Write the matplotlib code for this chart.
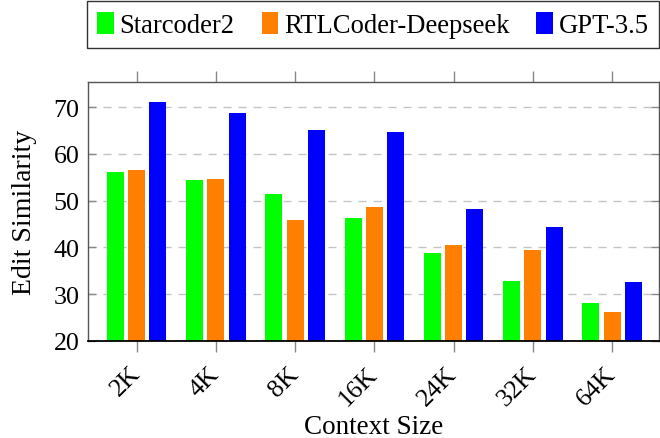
import numpy as np
import matplotlib
matplotlib.use('Agg')
import matplotlib.pyplot as plt

plt.rcParams['font.family'] = ['Liberation Serif', 'DejaVu Serif']

contexts = ['2K', '4K', '8K', '16K', '24K', '32K', '64K']
starcoder2 = [56.2, 54.4, 51.4, 46.3, 38.7, 32.8, 28.0]
rtlcoder = [56.6, 54.6, 45.9, 48.6, 40.5, 39.5, 26.1]
gpt35 = [71.1, 68.7, 65.2, 64.6, 48.3, 44.4, 32.6]

series = [('Starcoder2', starcoder2, '#00ff00'),
          ('RTLCoder-Deepseek', rtlcoder, '#ff8000'),
          ('GPT-3.5', gpt35, '#0000ff')]

fig = plt.figure(figsize=(6.6, 4.39), dpi=100)
ax = fig.add_axes([88 / 660, 1 - 341.7 / 439, 571 / 660, (341.7 - 83) / 439])

x = np.arange(len(contexts))
step = 0.268
width = 0.215
for i, (name, vals, color) in enumerate(series):
    ax.bar(x + (i - 1) * step, np.array(vals) - 20, width, bottom=20,
           color=color, label=name, zorder=3)

ax.set_xlim(-0.612, 6.59)
ax.set_ylim(20, 75.4)
ax.set_yticks([20, 30, 40, 50, 60, 70])
ax.set_xticks(x)
ax.set_xticklabels(contexts, rotation=45, ha='right', va='center',
                   rotation_mode='anchor')

ax.tick_params(axis='x', direction='out', top=True, length=8, width=1,
               color='#888888', labelsize=18.7, pad=13)
ax.tick_params(axis='y', direction='in', right=True, length=6, width=1,
               color='#888888', labelsize=18.7, pad=6)

ax.grid(axis='y', color='#c4c4c4', linewidth=1, linestyle=(0, (5.8, 5)),
        zorder=0)

for s in ['left', 'right', 'top']:
    ax.spines[s].set_color('#555555')
    ax.spines[s].set_linewidth(1)
ax.spines['bottom'].set_color('black')
ax.spines['bottom'].set_linewidth(1.3)
ax.spines['bottom'].set_zorder(4)

ax.set_ylabel('Edit Similarity', fontsize=20, labelpad=12)
ax.set_xlabel('Context Size', fontsize=19.5)
ax.xaxis.set_label_coords(0.5, -0.285)

leg = fig.legend(loc='lower left',
                 bbox_to_anchor=(87 / 660, 1 - 49 / 439, 572 / 660, 44 / 439),
                 mode='expand', ncol=3, fontsize=19.2, frameon=True,
                 fancybox=False, edgecolor='black', handlelength=0.62,
                 handleheight=0.9, handletextpad=0.22, columnspacing=1.1,
                 borderpad=0.38, borderaxespad=0)
leg.get_frame().set_linewidth(1)

fig.savefig('out.png', dpi=100)
